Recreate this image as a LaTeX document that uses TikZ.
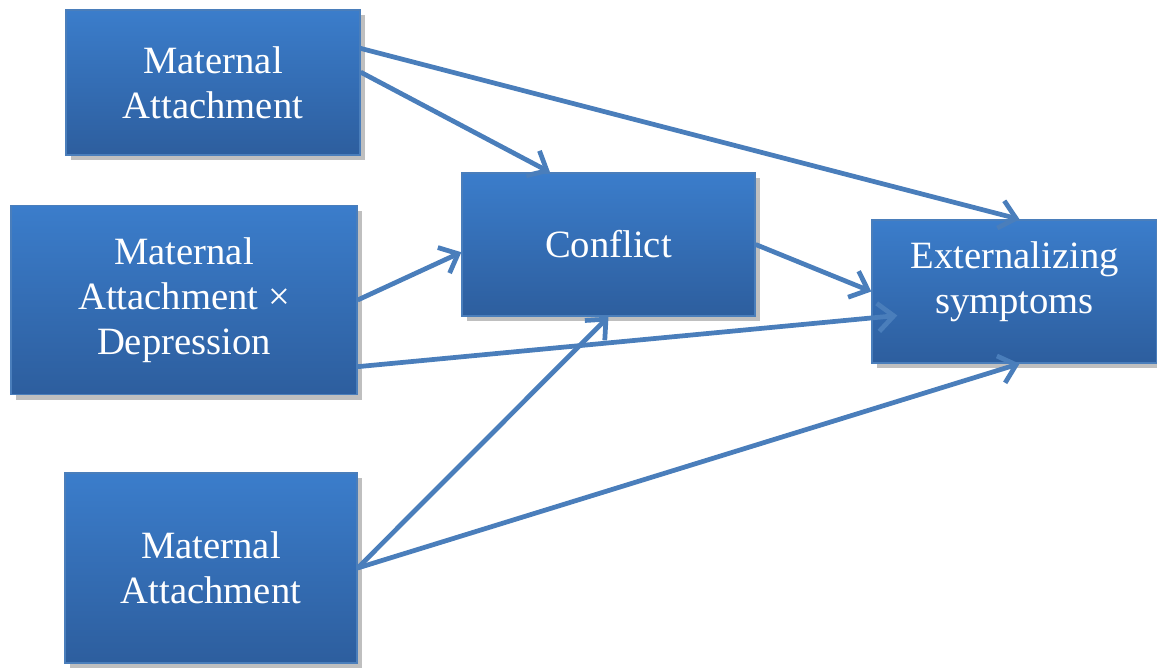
\documentclass[tikz,border=0pt]{standalone}
\usepackage{fontspec}
\setmainfont{Liberation Serif}
\usetikzlibrary{arrows.meta,shadows,calc}
\definecolor{boxtop}{HTML}{3B7DCB}
\definecolor{boxbot}{HTML}{2D5E9E}
\definecolor{boxline}{HTML}{4A7EBB}
\definecolor{linkblue}{HTML}{4A7EBB}

\begin{document}
\begin{tikzpicture}[x=0.02cm,y=-0.02cm,
  block/.style={rectangle,draw=boxline,line width=0.8pt,top color=boxtop,bottom color=boxbot,text=white,align=center,inner sep=0pt,font=\fontsize{22}{25.5}\selectfont,drop shadow={shadow xshift=3pt,shadow yshift=-3pt,opacity=0.25,fill=black}},
  link/.style={draw=linkblue,line width=2.7pt,-{Straight Barb[length=9pt,width=16pt]}}]
\useasboundingbox (0,0) rectangle (1157,669);
\node[block,minimum width=5.88cm,minimum height=2.9cm] (matt) at (213,82.5) {Maternal\\Attachment};
\node[block,minimum width=6.92cm,minimum height=3.78cm] (mdep) at (184,300) {Maternal\\Attachment ×\\Depression};
\node[block,minimum width=5.84cm,minimum height=3.8cm] (mlow) at (211,568) {Maternal\\Attachment};
\node[block,minimum width=5.86cm,minimum height=2.86cm] (conf) at (608.5,244.5) {Conflict};
\node[block,minimum width=5.7cm,minimum height=2.86cm] (ext) at (1014.5,291.5) {Externalizing\\symptoms\\[-9.5pt]};
\draw[link] (matt.13) -- (ext.86);
\draw[link] (matt.4) -- (conf.129);
\draw[link] (mdep.east) -- (conf.183);
\draw[link] (mdep.339) -- ($(ext.west)+(26,24)$);
\draw[link] (conf.east) -- (ext.west);
\draw[link] (mlow.east) -- (conf.south);
\draw[link] (mlow.east) -- (ext.274);
\end{tikzpicture}
\end{document}
